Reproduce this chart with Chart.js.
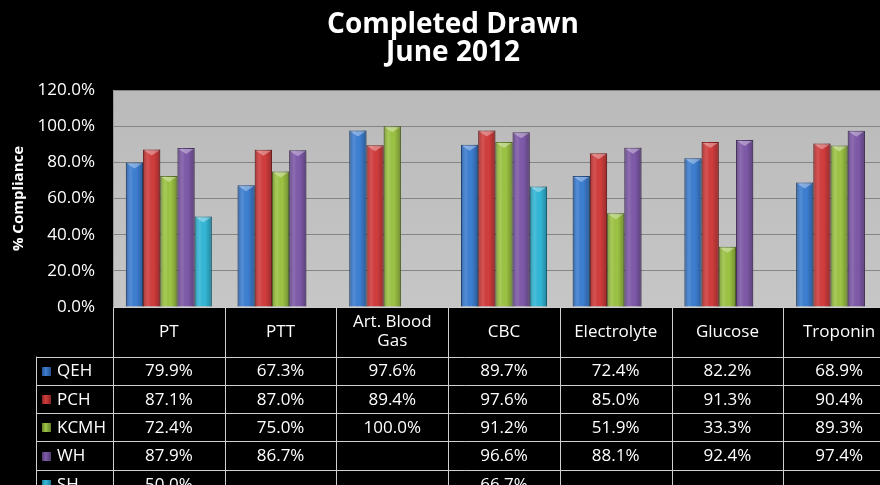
<!DOCTYPE html>
<html lang="en">
<head>
  <meta charset="UTF-8">
  <title>Completed Drawn June 2012</title>
  <style>
    html, body {
      margin: 0;
      padding: 0;
      background: #000;
      overflow: hidden;
    }
    #wrap {
      width: 920px;
      height: 485px;
    }
  </style>
  <script src="https://cdn.jsdelivr.net/npm/chart.js"></script>
</head>
<body>
  <div id="wrap"><canvas id="chart" width="920" height="485"></canvas></div>
  <script>
    const titleLines = ['Completed Drawn', 'June 2012'];
    const categories = ['PT', 'PTT', 'Art. Blood Gas', 'CBC', 'Electrolyte', 'Glucose', 'Troponin'];
    const headerLines = [['PT'], ['PTT'], ['Art. Blood', 'Gas'], ['CBC'], ['Electrolyte'], ['Glucose'], ['Troponin']];
    const seriesNames = ['QEH', 'PCH', 'KCMH', 'WH', 'SH'];
    const qeh = [79.9, 67.3, 97.6, 89.7, 72.4, 82.2, 68.9];
    const pch = [87.1, 87.0, 89.4, 97.6, 85.0, 91.3, 90.4];
    const kcmh = [72.4, 75.0, 100.0, 91.2, 51.9, 33.3, 89.3];
    const wh = [87.9, 86.7, null, 96.6, 88.1, 92.4, 97.4];
    const sh = [50.0, null, null, 66.7, null, null, null];
    const yTicks = [0, 20, 40, 60, 80, 100, 120];

    const colors = ['#3d7fd2', '#d23d3d', '#9dc444', '#7f5aa9', '#33b8d8'];
    const edges = ['#24508c', '#8c2222', '#647f2a', '#523a70', '#1f7f99'];
    const FONT = '"Open Sans", sans-serif';

    const series = [qeh, pch, kcmh, wh, sh];

    const chartPlugin = {
      id: 'chartExtras',
      beforeDraw(chart) {
        const { ctx, chartArea: a } = chart;
        ctx.save();
        ctx.fillStyle = '#000';
        ctx.fillRect(0, 0, chart.width, chart.height);
        const g = ctx.createLinearGradient(0, a.top, 0, a.bottom);
        g.addColorStop(0, '#bababa');
        g.addColorStop(1, '#c6c6c6');
        ctx.fillStyle = g;
        ctx.fillRect(a.left, a.top, a.right - a.left, a.bottom - a.top);

        // title
        ctx.fillStyle = '#fff';
        ctx.textAlign = 'center';
        ctx.textBaseline = 'alphabetic';
        ctx.font = 'bold 28px ' + FONT;
        titleLines.forEach((t, i) => ctx.fillText(t, 453, 33 + i * 28));
        ctx.restore();
      },
      afterDatasetsDraw(chart) {
        const ctx = chart.ctx;
        ctx.save();
        chart.data.datasets.forEach((ds, di) => {
          chart.getDatasetMeta(di).data.forEach((bar, i) => {
            if (ds.data[i] == null) return;
            const p = bar.getProps(['x', 'y', 'base', 'width'], true);
            const l = p.x - p.width / 2, r = p.x + p.width / 2;
            const g = ctx.createLinearGradient(l, 0, r, 0);
            g.addColorStop(0, 'rgba(0,0,0,0.25)');
            g.addColorStop(0.3, 'rgba(255,255,255,0.10)');
            g.addColorStop(0.6, 'rgba(0,0,0,0)');
            g.addColorStop(1, 'rgba(0,0,0,0.28)');
            ctx.fillStyle = g;
            ctx.fillRect(l, p.y, p.width, p.base - p.y);
            ctx.fillStyle = 'rgba(255,255,255,0.35)';
            ctx.beginPath();
            ctx.moveTo(l + 1, p.y + 1);
            ctx.lineTo(r - 1, p.y + 1);
            ctx.lineTo(p.x, p.y + 6);
            ctx.closePath();
            ctx.fill();
          });
        });
        ctx.restore();
      },
      afterDraw(chart) {
        // data table under the plot
        const { ctx, chartArea: a } = chart;
        const xs = chart.scales.x;
        const colW = (a.right - a.left) / categories.length;
        const top = Math.round(a.bottom) + 0.5;
        const headBottom = top + 49;
        const rowH = 28.3;
        const legendLeft = 36.5;
        const bottom = chart.height;

        ctx.save();
        ctx.lineWidth = 1;
        ctx.strokeStyle = '#cfcfcf';
        ctx.beginPath();
        ctx.moveTo(a.left, top);
        ctx.lineTo(a.right, top);
        for (let k = 0; k <= seriesNames.length; k++) {
          const yy = Math.round(headBottom + k * rowH) + 0.5;
          ctx.moveTo(legendLeft, yy);
          ctx.lineTo(a.right, yy);
        }
        for (let i = 0; i <= categories.length; i++) {
          const xx = Math.round(a.left + i * colW) + 0.5;
          ctx.moveTo(xx, top);
          ctx.lineTo(xx, bottom);
        }
        ctx.moveTo(legendLeft, headBottom);
        ctx.lineTo(legendLeft, bottom);
        ctx.stroke();

        ctx.fillStyle = '#fff';
        ctx.textAlign = 'center';
        ctx.textBaseline = 'middle';
        ctx.font = '17px ' + FONT;
        categories.forEach((c, i) => {
          const cx = xs.getPixelForValue(i);
          const lines = headerLines[i];
          const cy = (top + headBottom) / 2;
          lines.forEach((t, j) => {
            ctx.fillText(t, cx, cy + (j - (lines.length - 1) / 2) * 19);
          });
        });

        series.forEach((vals, k) => {
          const cy = headBottom + k * rowH + rowH / 2 + 1;
          vals.forEach((v, i) => {
            if (v == null) return;
            ctx.textAlign = 'center';
            ctx.fillText(v.toFixed(1) + '%', xs.getPixelForValue(i), cy);
          });
          const g = ctx.createLinearGradient(42, 0, 51, 0);
          g.addColorStop(0, edges[k]);
          g.addColorStop(0.4, colors[k]);
          g.addColorStop(1, edges[k]);
          ctx.fillStyle = g;
          ctx.fillRect(42, Math.round(cy - 5), 9, 9);
          ctx.fillStyle = '#fff';
          ctx.textAlign = 'left';
          ctx.fillText(seriesNames[k], 57, cy);
        });
        ctx.restore();
      }
    };

    new Chart(document.getElementById('chart'), {
      type: 'bar',
      data: {
        labels: categories,
        datasets: seriesNames.map((name, k) => ({
          label: name,
          data: series[k],
          backgroundColor: colors[k],
          borderColor: edges[k],
          borderWidth: 1,
          barPercentage: 1,
          categoryPercentage: 0.77
        }))
      },
      options: {
        responsive: false,
        animation: false,
        layout: { padding: { top: 90, right: 25, bottom: 178, left: 0 } },
        plugins: {
          legend: { display: false },
          tooltip: { enabled: false }
        },
        scales: {
          x: {
            ticks: { display: false },
            grid: { display: false },
            border: { display: false },
            afterFit: s => { s.height = 0; }
          },
          y: {
            min: 0,
            max: 120,
            afterBuildTicks: s => { s.ticks = yTicks.map(v => ({ value: v })); },
            ticks: {
              color: '#fff',
              padding: 18,
              font: { family: FONT, size: 17 },
              callback: v => v.toFixed(1) + '%'
            },
            grid: { color: '#858585', drawTicks: false },
            border: { display: true, color: '#9a9a9a' },
            title: {
              display: true,
              text: '% Compliance',
              color: '#fff',
              font: { family: FONT, size: 15, weight: 'bold' },
              padding: { top: 10, bottom: 0 }
            },
            afterFit: s => { s.width = 113; }
          }
        }
      },
      plugins: [chartPlugin]
    });
  </script>
</body>
</html>
